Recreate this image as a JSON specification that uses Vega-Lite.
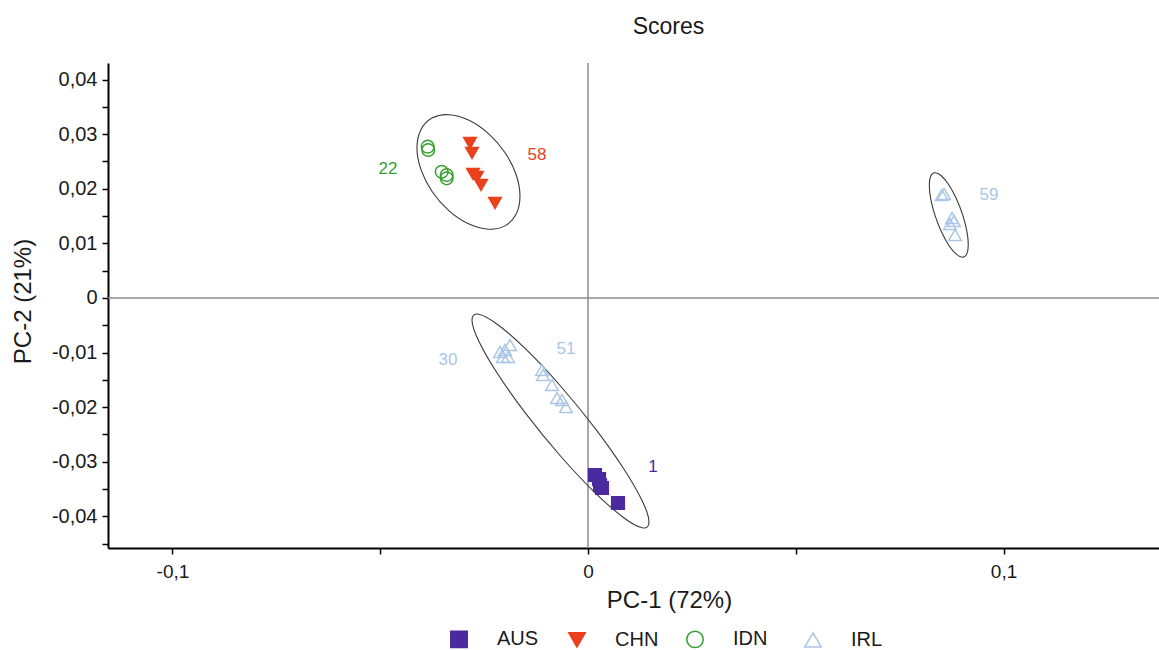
{
  "$schema": "https://vega.github.io/schema/vega-lite/v6.json",
  "width": 1051,
  "height": 485,
  "autosize": {"type": "none"},
  "padding": {"left": 108, "top": 63, "right": 0, "bottom": 102},
  "title": {
    "text": "Scores",
    "anchor": "middle",
    "frame": "group",
    "dx": 35,
    "offset": 5,
    "baseline": "alphabetic",
    "fontSize": 23,
    "fontWeight": "normal",
    "font": "Liberation Sans",
    "color": "#1a1a1a"
  },
  "datasets": {
    "scores": [
      {"country": "AUS", "pc1": 0.00168, "pc2": -0.03242},
      {"country": "AUS", "pc1": 0.00265, "pc2": -0.03315},
      {"country": "AUS", "pc1": 0.00289, "pc2": -0.03425},
      {"country": "AUS", "pc1": 0.00337, "pc2": -0.0348},
      {"country": "AUS", "pc1": 0.00722, "pc2": -0.03755},
      {"country": "CHN", "pc1": -0.0284, "pc2": 0.02839},
      {"country": "CHN", "pc1": -0.02792, "pc2": 0.02656},
      {"country": "CHN", "pc1": -0.02768, "pc2": 0.02271},
      {"country": "CHN", "pc1": -0.02671, "pc2": 0.02216},
      {"country": "CHN", "pc1": -0.02575, "pc2": 0.0207},
      {"country": "CHN", "pc1": -0.02238, "pc2": 0.0174},
      {"country": "IDN", "pc1": -0.03858, "pc2": 0.02771},
      {"country": "IDN", "pc1": -0.03844, "pc2": 0.02711},
      {"country": "IDN", "pc1": -0.03521, "pc2": 0.02313},
      {"country": "IDN", "pc1": -0.03401, "pc2": 0.02253},
      {"country": "IDN", "pc1": -0.03401, "pc2": 0.02192},
      {"country": "IRL", "pc1": 0.08513, "pc2": 0.01886},
      {"country": "IRL", "pc1": 0.08568, "pc2": 0.01905},
      {"country": "IRL", "pc1": 0.08761, "pc2": 0.01465},
      {"country": "IRL", "pc1": 0.08809, "pc2": 0.0141},
      {"country": "IRL", "pc1": 0.08712, "pc2": 0.01355},
      {"country": "IRL", "pc1": 0.08833, "pc2": 0.01154},
      {"country": "IRL", "pc1": -0.02118, "pc2": -0.00989},
      {"country": "IRL", "pc1": -0.01998, "pc2": -0.00952},
      {"country": "IRL", "pc1": -0.01877, "pc2": -0.00861},
      {"country": "IRL", "pc1": -0.02046, "pc2": -0.01081},
      {"country": "IRL", "pc1": -0.01925, "pc2": -0.01081},
      {"country": "IRL", "pc1": -0.01107, "pc2": -0.01319},
      {"country": "IRL", "pc1": -0.01083, "pc2": -0.0141},
      {"country": "IRL", "pc1": -0.00866, "pc2": -0.01593},
      {"country": "IRL", "pc1": -0.00746, "pc2": -0.01832},
      {"country": "IRL", "pc1": -0.00626, "pc2": -0.01868},
      {"country": "IRL", "pc1": -0.00529, "pc2": -0.01996}
    ],
    "ellipses": [
      {"group": "a", "i": 0, "pc1": -0.01637, "pc2": 0.01863},
      {"group": "a", "i": 1, "pc1": -0.01731, "pc2": 0.01533},
      {"group": "a", "i": 2, "pc1": -0.02, "pc2": 0.01321},
      {"group": "a", "i": 3, "pc1": -0.02402, "pc2": 0.0126},
      {"group": "a", "i": 4, "pc1": -0.02876, "pc2": 0.01358},
      {"group": "a", "i": 5, "pc1": -0.0335, "pc2": 0.016},
      {"group": "a", "i": 6, "pc1": -0.03753, "pc2": 0.01951},
      {"group": "a", "i": 7, "pc1": -0.04021, "pc2": 0.02355},
      {"group": "a", "i": 8, "pc1": -0.04116, "pc2": 0.02753},
      {"group": "a", "i": 9, "pc1": -0.04021, "pc2": 0.03083},
      {"group": "a", "i": 10, "pc1": -0.03753, "pc2": 0.03295},
      {"group": "a", "i": 11, "pc1": -0.0335, "pc2": 0.03357},
      {"group": "a", "i": 12, "pc1": -0.02876, "pc2": 0.03259},
      {"group": "a", "i": 13, "pc1": -0.02402, "pc2": 0.03016},
      {"group": "a", "i": 14, "pc1": -0.02, "pc2": 0.02665},
      {"group": "a", "i": 15, "pc1": -0.01731, "pc2": 0.02261},
      {"group": "b", "i": 0, "pc1": 0.09152, "pc2": 0.00978},
      {"group": "b", "i": 1, "pc1": 0.09117, "pc2": 0.00808},
      {"group": "b", "i": 2, "pc1": 0.09015, "pc2": 0.00746},
      {"group": "b", "i": 3, "pc1": 0.08863, "pc2": 0.00802},
      {"group": "b", "i": 4, "pc1": 0.08683, "pc2": 0.00967},
      {"group": "b", "i": 5, "pc1": 0.08503, "pc2": 0.01217},
      {"group": "b", "i": 6, "pc1": 0.08351, "pc2": 0.01512},
      {"group": "b", "i": 7, "pc1": 0.08249, "pc2": 0.01809},
      {"group": "b", "i": 8, "pc1": 0.08214, "pc2": 0.02062},
      {"group": "b", "i": 9, "pc1": 0.08249, "pc2": 0.02233},
      {"group": "b", "i": 10, "pc1": 0.08351, "pc2": 0.02294},
      {"group": "b", "i": 11, "pc1": 0.08503, "pc2": 0.02239},
      {"group": "b", "i": 12, "pc1": 0.08683, "pc2": 0.02073},
      {"group": "b", "i": 13, "pc1": 0.08863, "pc2": 0.01824},
      {"group": "b", "i": 14, "pc1": 0.09015, "pc2": 0.01528},
      {"group": "b", "i": 15, "pc1": 0.09117, "pc2": 0.01231},
      {"group": "c", "i": 0, "pc1": 0.01468, "pc2": -0.04104},
      {"group": "c", "i": 1, "pc1": 0.01306, "pc2": -0.04209},
      {"group": "c", "i": 2, "pc1": 0.00844, "pc2": -0.04015},
      {"group": "c", "i": 3, "pc1": 0.00153, "pc2": -0.03554},
      {"group": "c", "i": 4, "pc1": -0.00662, "pc2": -0.02894},
      {"group": "c", "i": 5, "pc1": -0.01477, "pc2": -0.02136},
      {"group": "c", "i": 6, "pc1": -0.02168, "pc2": -0.01397},
      {"group": "c", "i": 7, "pc1": -0.0263, "pc2": -0.00787},
      {"group": "c", "i": 8, "pc1": -0.02792, "pc2": -0.00401},
      {"group": "c", "i": 9, "pc1": -0.0263, "pc2": -0.00297},
      {"group": "c", "i": 10, "pc1": -0.02168, "pc2": -0.0049},
      {"group": "c", "i": 11, "pc1": -0.01477, "pc2": -0.00952},
      {"group": "c", "i": 12, "pc1": -0.00662, "pc2": -0.01612},
      {"group": "c", "i": 13, "pc1": 0.00153, "pc2": -0.02369},
      {"group": "c", "i": 14, "pc1": 0.00844, "pc2": -0.03109},
      {"group": "c", "i": 15, "pc1": 0.01306, "pc2": -0.03718}
    ],
    "labels": [
      {"country": "IDN", "label": "22", "pc1": -0.04813, "pc2": 0.02363},
      {"country": "CHN", "label": "58", "pc1": -0.01227, "pc2": 0.02619},
      {"country": "IRL", "label": "59", "pc1": 0.09651, "pc2": 0.01886},
      {"country": "IRL", "label": "30", "pc1": -0.03369, "pc2": -0.01136},
      {"country": "IRL", "label": "51", "pc1": -0.00529, "pc2": -0.00934},
      {"country": "AUS", "label": "1", "pc1": 0.01564, "pc2": -0.03095}
    ],
    "zeroX": [{"pc1": 0}],
    "zeroY": [{"pc2": 0}]
  },
  "layer": [
    {
      "data": {"name": "zeroX"},
      "mark": {"type": "rule", "color": "#8c8c8c", "strokeWidth": 1.5},
      "encoding": {
        "x": {"field": "pc1", "type": "quantitative", "title": "PC-1 (72%)"}
      }
    },
    {
      "data": {"name": "zeroY"},
      "mark": {"type": "rule", "color": "#8c8c8c", "strokeWidth": 1.5},
      "encoding": {
        "y": {
          "field": "pc2",
          "type": "quantitative",
          "title": "PC-2 (21%)",
          "axis": {
            "orient": "left",
            "values": [-0.045, -0.035, -0.025, -0.015, -0.005, 0.005, 0.015, 0.025, 0.035],
            "labels": false,
            "domain": false,
            "title": null
          }
        }
      }
    },
    {
      "data": {"name": "ellipses"},
      "mark": {"type": "line", "interpolate": "cardinal-closed", "color": "#3a3a3a", "strokeWidth": 1.1},
      "encoding": {
        "x": {"field": "pc1", "type": "quantitative", "title": "PC-1 (72%)"},
        "y": {"field": "pc2", "type": "quantitative", "title": "PC-2 (21%)", "axis": null},
        "detail": {"field": "group"},
        "order": {"field": "i", "type": "quantitative"}
      }
    },
    {
      "data": {"name": "scores"},
      "mark": {"type": "point", "strokeWidth": 1.5, "opacity": 1, "size": 160},
      "encoding": {
        "x": {
          "field": "pc1",
          "type": "quantitative",
          "title": "PC-1 (72%)",
          "scale": {"domain": [-0.11552, 0.13742], "nice": false, "zero": false},
          "axis": {
            "values": [-0.1, -0.05, 0, 0.05, 0.1],
            "labelExpr": "datum.value == 0 ? '0' : (abs(round(datum.value * 20)) % 2 == 0 ? replace(replace(format(datum.value, '.1f'), '.', ','), '−', '-') : '')",
            "labelPadding": 8,
            "titleX": 561,
            "titleY": 59,
            "titleAlign": "center",
            "titleBaseline": "alphabetic"
          }
        },
        "y": {
          "field": "pc2",
          "type": "quantitative",
          "title": "PC-2 (21%)",
          "scale": {"domain": [-0.04579, 0.04304], "nice": false, "zero": false},
          "axis": {
            "orient": "left",
            "values": [-0.04, -0.03, -0.02, -0.01, 0, 0.01, 0.02, 0.03, 0.04],
            "labelExpr": "datum.value == 0 ? '0' : replace(replace(format(datum.value, '.2f'), '.', ','), '−', '-')",
            "labelPadding": 5,
            "labelFontSize": 20,
            "titleX": -78,
            "titleY": 238,
            "titleAngle": 270,
            "titleAlign": "center",
            "titleBaseline": "alphabetic"
          }
        },
        "shape": {
          "field": "country",
          "type": "nominal",
          "scale": {"domain": ["AUS", "CHN", "IDN", "IRL"], "range": ["square", "triangle-down", "circle", "triangle-up"]},
          "legend": {
            "title": null,
            "orient": "none",
            "legendX": 341,
            "legendY": 566,
            "direction": "horizontal",
            "columns": 4,
            "gridAlign": "all",
            "columnPadding": 24,
            "labelOffset": 28,
            "symbolSize": 270,
            "symbolStrokeWidth": 1.5,
            "labelFontSize": 20,
            "labelFont": "Liberation Sans",
            "labelColor": "#1a1a1a",
            "padding": 0
          }
        },
        "fill": {
          "field": "country",
          "type": "nominal",
          "scale": {"domain": ["AUS", "CHN", "IDN", "IRL"], "range": ["#4a2a9e", "#e8411b", "transparent", "transparent"]}
        },
        "stroke": {
          "field": "country",
          "type": "nominal",
          "scale": {"domain": ["AUS", "CHN", "IDN", "IRL"], "range": ["#4a2a9e", "#e8411b", "#36a02f", "#a9c6e6"]}
        }
      }
    },
    {
      "data": {"name": "labels"},
      "mark": {"type": "text", "align": "center", "baseline": "middle", "fontSize": 17, "font": "Liberation Sans"},
      "encoding": {
        "x": {"field": "pc1", "type": "quantitative", "title": "PC-1 (72%)"},
        "y": {"field": "pc2", "type": "quantitative", "title": "PC-2 (21%)", "axis": null},
        "text": {"field": "label"},
        "color": {
          "field": "country",
          "type": "nominal",
          "scale": {"domain": ["AUS", "CHN", "IDN", "IRL"], "range": ["#4a2a9e", "#e8411b", "#36a02f", "#a9c6e6"]},
          "legend": null
        }
      }
    }
  ],
  "resolve": {"axis": {"y": "independent"}},
  "config": {
    "view": {"stroke": null},
    "font": "Liberation Sans",
    "axis": {
      "grid": false,
      "domainColor": "#000000",
      "domainWidth": 2,
      "tickColor": "#000000",
      "tickWidth": 1.5,
      "tickSize": 6,
      "labelFont": "Liberation Sans",
      "labelFontSize": 19,
      "labelColor": "#1a1a1a",
      "labelFlush": false,
      "labelOverlap": false,
      "titleFont": "Liberation Sans",
      "titleFontSize": 24,
      "titleFontWeight": "normal",
      "titleColor": "#1a1a1a"
    }
  }
}
